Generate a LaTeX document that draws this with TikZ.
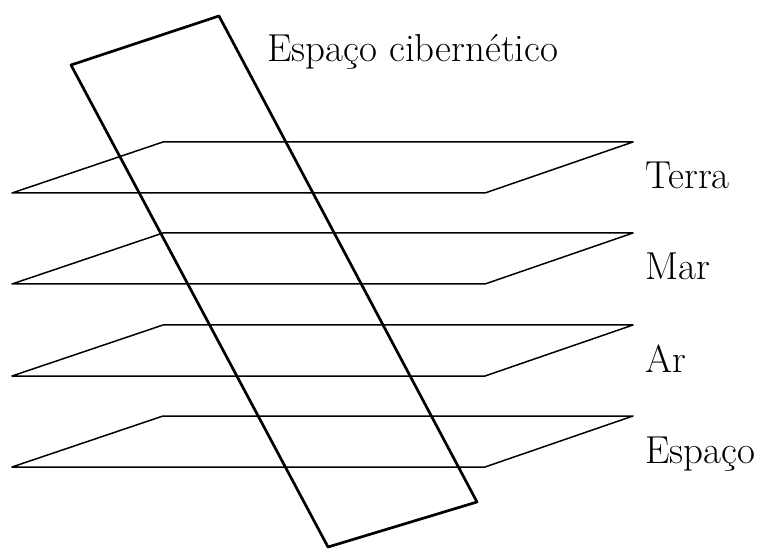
\documentclass[tikz,border=0pt]{standalone}
\usepackage{tikz}
\usetikzlibrary{positioning}
\tikzset{
every picture/.style={line cap=round,line join=round},
plane line/.style={draw=black, line width=0.75pt},
cyber line/.style={draw=black, line width=1.35pt},
layer label/.style={anchor=base west, inner sep=0pt, font=\fontsize{19.5}{22}\selectfont}
}

\begin{document}
\begin{tikzpicture}[x=0.5pt,y=-0.5pt]
\useasboundingbox (0,0) rectangle (758,549);
% domain layers
\foreach \ytop/\name/\lbl in {142/terra/Terra,233/mar/Mar,325/ar/Ar,416/espaco/Espaço}{
  \coordinate (\name-nw) at (163,\ytop);
  \coordinate (\name-ne) at (633,\ytop);
  \coordinate (\name-se) at (485,\ytop+51);
  \coordinate (\name-sw) at (12,\ytop+51);
  \draw[plane line] (\name-nw) -- (\name-ne) -- (\name-se) -- (\name-sw) -- cycle;
  \node[layer label] (\name) at (645,\ytop+47) {\lbl};
}
% cyberspace plane
\coordinate (c-nw) at (71,65);
\coordinate (c-ne) at (219,16);
\coordinate (c-se) at (477,502);
\coordinate (c-sw) at (328,547);
\draw[cyber line] (c-nw) -- (c-ne) -- (c-se) -- (c-sw) -- cycle;
\node[layer label] (cyber) at (267,62) {Espaço cibernético};
\end{tikzpicture}
\end{document}
